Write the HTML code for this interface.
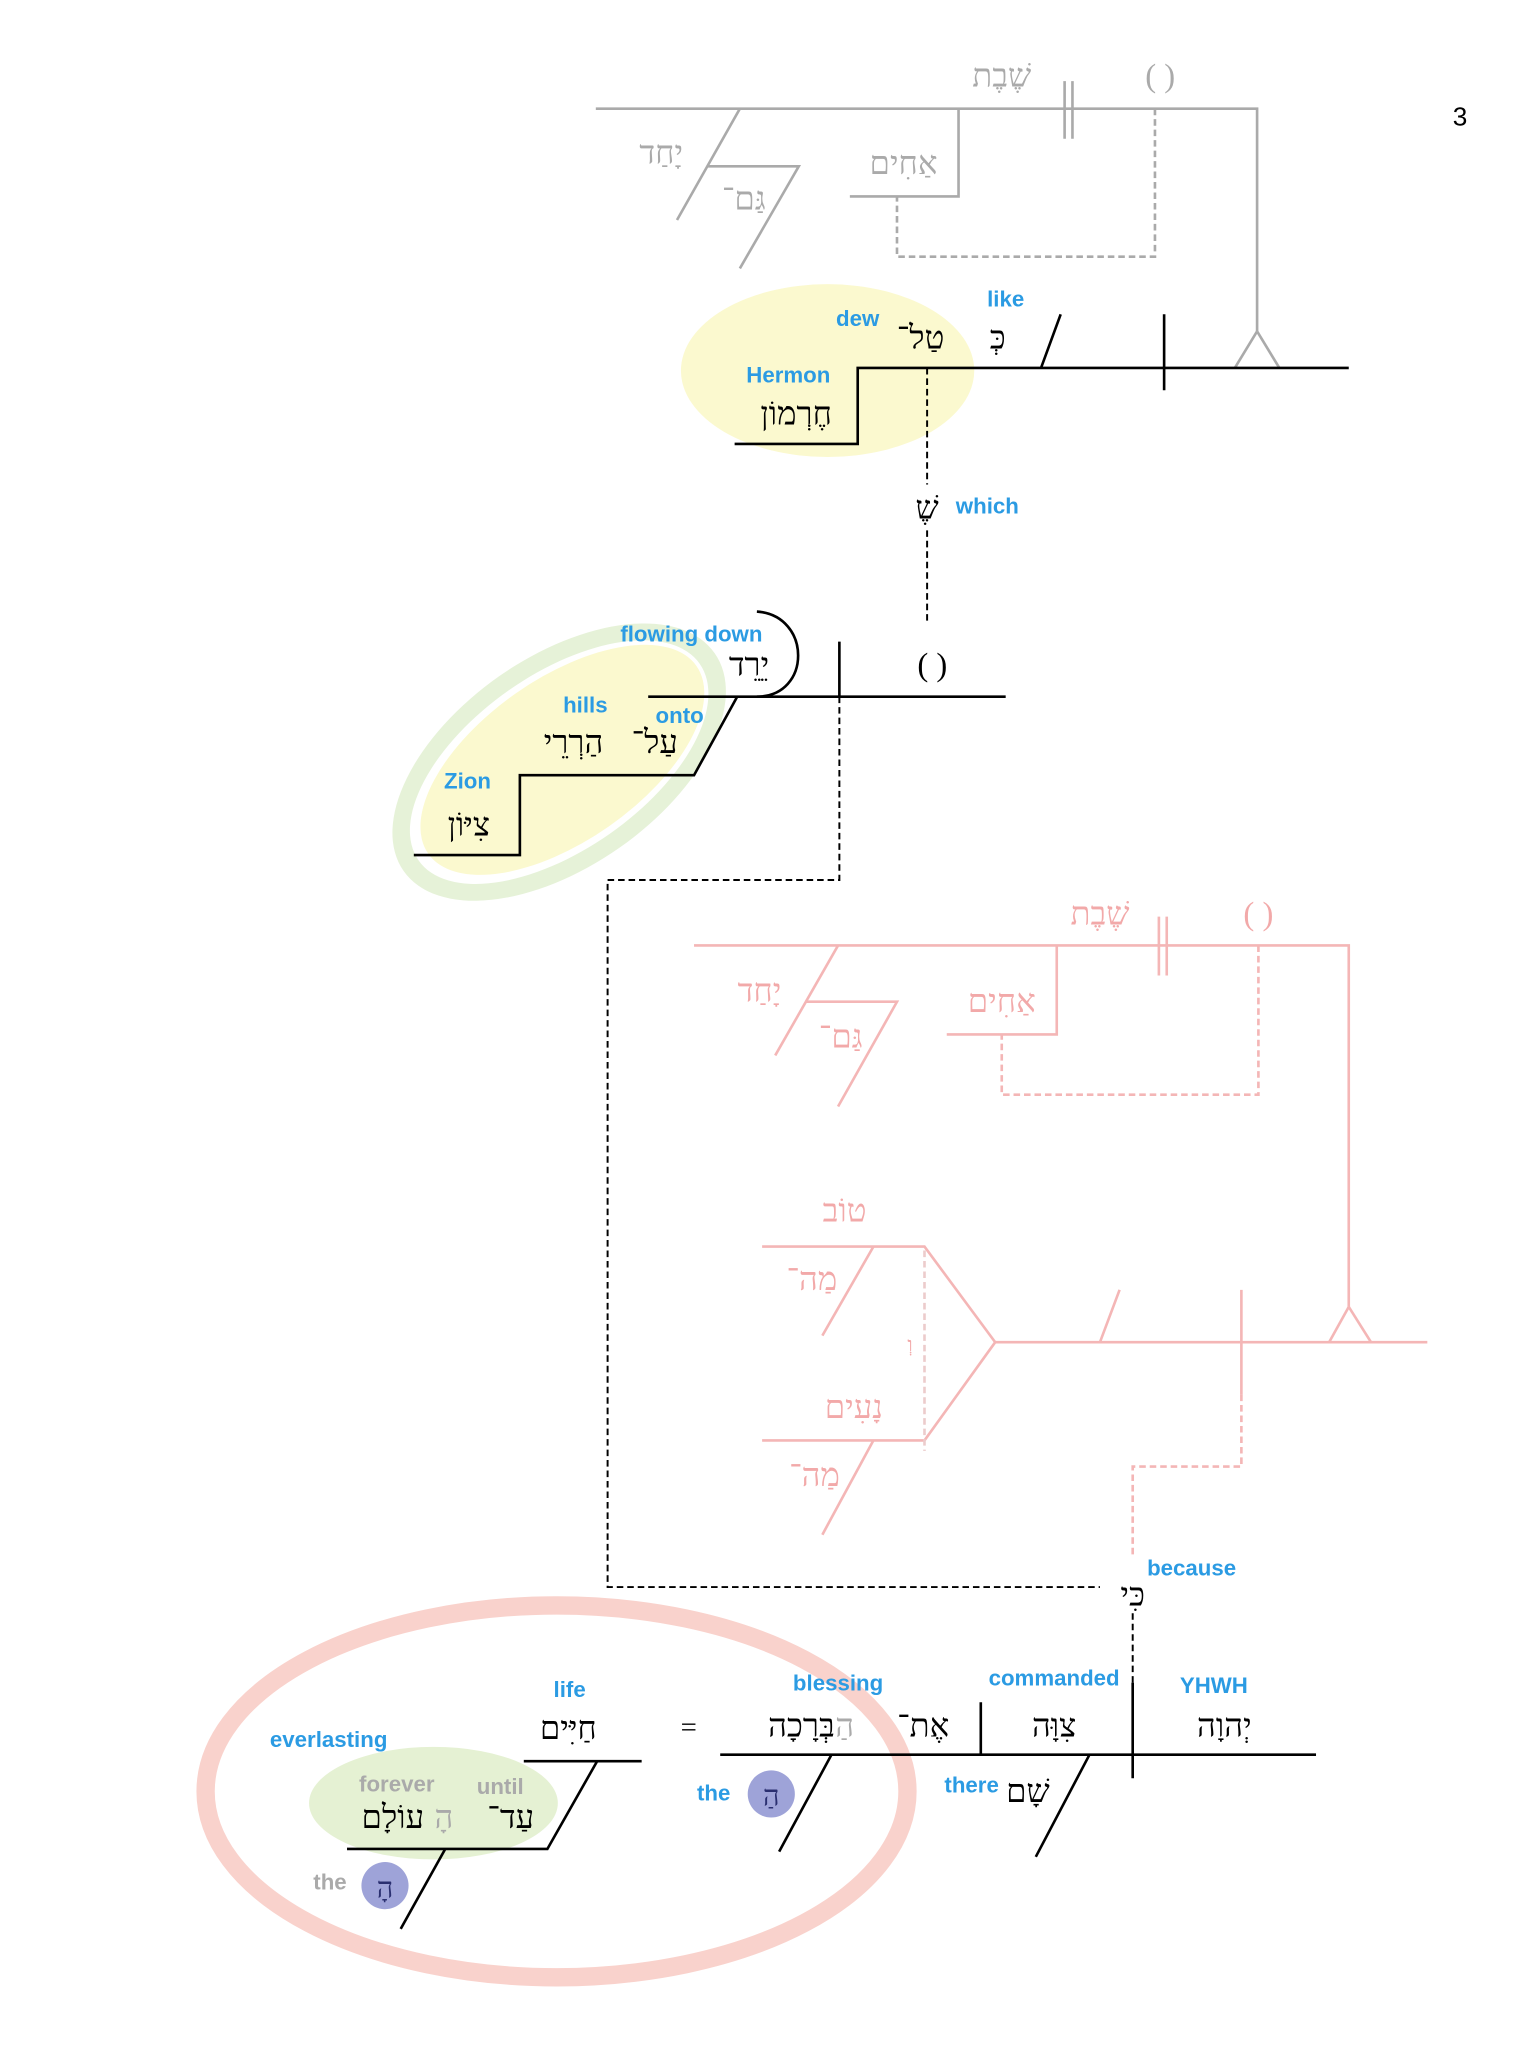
<!DOCTYPE html>
<html><head><meta charset="utf-8"><style>
html,body{margin:0;padding:0;background:#fff}
svg{display:block}
.h{font-family:"Liberation Serif","DejaVu Serif",serif;font-size:25px;text-anchor:middle}
.l{font-family:"Liberation Sans","DejaVu Sans",sans-serif;font-size:17px;font-weight:bold;fill:#2b9be3;text-anchor:middle}
.g{fill:#aaa}
.p{fill:#f2a9a9}
</style></head><body>
<svg width="1519" height="2048" viewBox="0 0 1160 1564" xmlns="http://www.w3.org/2000/svg">
<!-- highlight ellipses -->
<ellipse cx="632" cy="283" rx="112" ry="66" fill="#fbf9cf"/>
<g transform="rotate(-35 427 582)">
<ellipse cx="427" cy="582" rx="145" ry="80" fill="#e6f2d8"/>
<ellipse cx="427" cy="582" rx="131" ry="67" fill="#fff"/>
<ellipse cx="430" cy="582" rx="125" ry="62" fill="#fbf9cf"/>
</g>
<ellipse cx="331" cy="1377" rx="95" ry="43" fill="#e5f1d3"/>
<ellipse cx="425" cy="1368" rx="268" ry="142" fill="none" stroke="#f9d2cc" stroke-width="14"/>

<text x="1115" y="96" font-family="Liberation Sans,sans-serif" font-size="20" text-anchor="middle">3</text>

<!-- gray clause -->
<g stroke="#aaa" stroke-width="2" fill="none">
<path d="M455 83H960V253"/>
<path d="M960 253L943 281M960 253L977 281"/>
<path d="M813 62V106M819 62V106"/>
<path d="M732 83V150H649"/>
<path d="M565 83L517 168M540 127H610L565 205"/>
<path d="M882 83V196H685V150" stroke-dasharray="5,3"/>
</g>
<text class="h g" x="765" y="66">שֶׁבֶת</text>
<text class="h g" x="886" y="66">( )</text>
<text class="h g" x="690" y="133">אַחִים</text>
<text class="h g" x="505" y="125">יָחַד</text>
<text class="h g" x="568" y="160">גַּם־</text>

<!-- clause 1 -->
<g stroke="#000" stroke-width="2" fill="none">
<path d="M561 339H655V281H1030"/>
<path d="M889 240V298M795 281L810 240"/>
<path d="M708 281V370M708 405V476" stroke-dasharray="5,3" stroke-width="1.5"/>
</g>
<text class="h" x="762" y="266">כְּ</text>
<text class="l" x="768" y="234">like</text>
<text class="h" x="703" y="266">טַל־</text>
<text class="l" x="655" y="249">dew</text>
<text class="l" x="602" y="292">Hermon</text>
<text class="h" x="608" y="324">חֶרְמוֹן</text>
<text class="h" x="708" y="396">שֶׁ</text>
<text class="l" x="754" y="392">which</text>

<!-- clause 2 -->
<g stroke="#000" stroke-width="2" fill="none">
<path d="M495 532H768M641 490V532"/>
<path d="M578 467C620 470 620 532 578 532"/>
<path d="M563 532L530 592H397V653H316"/>
<path d="M641 532V672H464V1212H840" stroke-dasharray="5,3" stroke-width="1.5"/>
</g>
<text class="h" x="712" y="516">( )</text>
<text class="l" x="528" y="490">flowing down</text>
<text class="h" x="572" y="516">יֵרֵד</text>
<text class="l" x="519" y="552">onto</text>
<text class="h" x="500" y="575">עַל־</text>
<text class="l" x="447" y="544">hills</text>
<text class="h" x="438" y="575">הַרְרֵי</text>
<text class="l" x="357" y="602">Zion</text>
<text class="h" x="358" y="638">צִיּוֹן</text>

<!-- pink clause -->
<g stroke="#f4b6b6" stroke-width="2" fill="none">
<path d="M530 722H1030V998"/>
<path d="M1030 998L1015 1025M1030 998L1047 1025"/>
<path d="M885 700V745M891 700V745"/>
<path d="M807 722V790H723"/>
<path d="M640 722L592 806M615 765H685L640 845"/>
<path d="M961 722V836H765V790" stroke-dasharray="5,3"/>
<path d="M582 952H706L760 1025L706 1100H582"/>
<path d="M760 1025H1090M840 1025L855 985M948 985V1065"/>
<path d="M667 952L628 1020M667 1100L628 1172"/>
<path d="M948 1065V1120H865V1190" stroke-dasharray="5,3"/>
<path d="M706 955V1108" stroke-dasharray="5,3" stroke="#eccccc"/>
</g>
<text class="h p" x="840" y="706">שֶׁבֶת</text>
<text class="h p" x="961" y="706">( )</text>
<text class="h p" x="765" y="773">אַחִים</text>
<text class="h p" x="580" y="765">יָחַד</text>
<text class="h p" x="642" y="800">גַּם־</text>
<text class="h p" x="645" y="933">טוֹב</text>
<text class="h p" x="620" y="985">מַה־</text>
<text class="h p" x="695" y="1032" style="font-size:16px">וְ</text>
<text class="h p" x="652" y="1083">נָעִים</text>
<text class="h p" x="622" y="1135">מַה־</text>

<!-- because -->
<text class="h" x="865" y="1226">כִּי</text>
<text class="l" x="910" y="1203">because</text>

<!-- bottom clause -->
<g stroke="#000" stroke-width="2" fill="none">
<path d="M550 1340H1005M749 1300V1340M865 1285V1358"/>
<path d="M865 1232V1290" stroke-dasharray="5,3" stroke-width="1.5"/>
<path d="M832 1340L791 1418M635 1340L595 1414"/>
<path d="M400 1345H490M456 1345L418 1412H265M340 1412L306 1473"/>
</g>
<text class="h" x="935" y="1326">יְהוָה</text>
<text class="l" x="927" y="1293">YHWH</text>
<text class="h" x="805" y="1326">צִוָּה</text>
<text class="l" x="805" y="1287">commanded</text>
<text class="h" x="705" y="1326">אֶת־</text>
<text class="h" x="612" y="1326">בְּרָכָה</text>
<text class="h g" x="645" y="1326">הַ</text>
<text class="l" x="640" y="1291">blessing</text>
<text class="h" x="785" y="1376">שָׁם</text>
<text class="l" x="742" y="1369">there</text>
<circle cx="589" cy="1370" r="18" fill="#9ea3d8"/>
<text class="h" x="589" y="1379" style="fill:#2a2f70;font-size:22px">הַ</text>
<text class="l" x="545" y="1375">the</text>
<text class="h" x="526" y="1326" style="font-size:22px">=</text>
<text class="h" x="434" y="1328">חַיִּים</text>
<text class="l" x="435" y="1296">life</text>
<text class="l" x="251" y="1334">everlasting</text>
<text class="l g" x="303" y="1368">forever</text>
<text class="l g" x="382" y="1370">until</text>
<text class="h" x="390" y="1396">עַד־</text>
<text class="h" x="300" y="1396">עוֹלָם</text>
<text class="h g" x="339" y="1396">הָ</text>
<circle cx="294" cy="1440" r="18" fill="#9ea3d8"/>
<text class="h" x="294" y="1449" style="fill:#2a2f70;font-size:22px">הָ</text>
<text class="l g" x="252" y="1443">the</text>
</svg>
</body></html>
